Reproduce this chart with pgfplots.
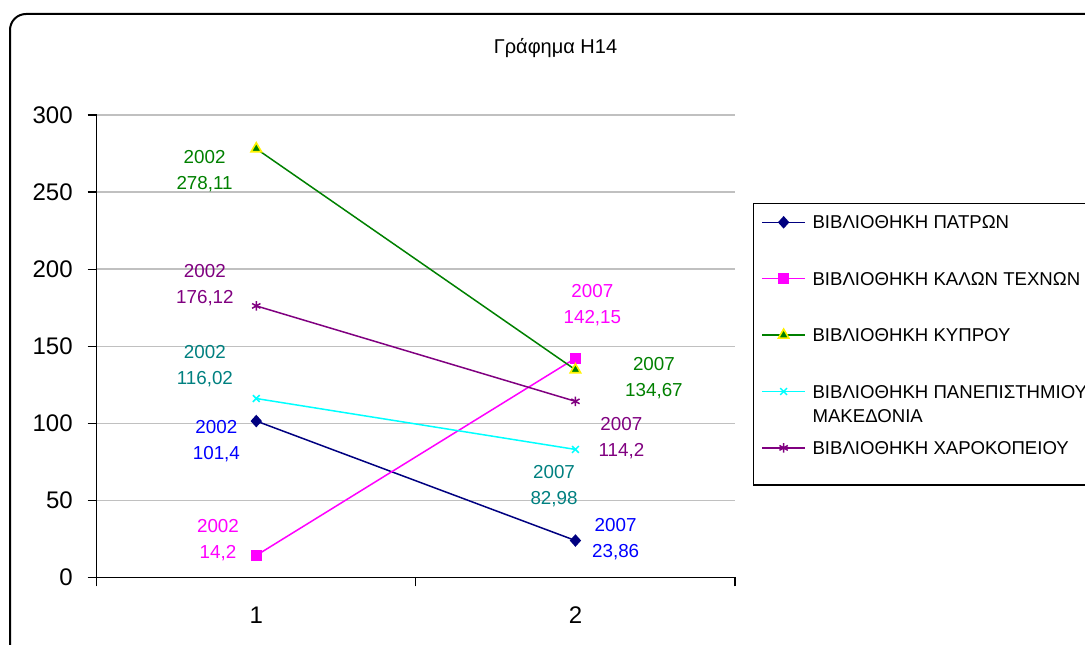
\documentclass[border=0pt]{standalone}
\usepackage{fontspec}
\setmainfont{Liberation Sans}
\usepackage{pgfplots}
\pgfplotsset{compat=1.18}
\definecolor{navyc}{RGB}{0,0,128}
\definecolor{bluec}{RGB}{0,0,255}
\definecolor{magc}{RGB}{255,0,255}
\definecolor{greenc}{RGB}{0,128,0}
\definecolor{cyanc}{RGB}{0,255,255}
\definecolor{tealc}{RGB}{0,128,128}
\definecolor{purpc}{RGB}{128,0,128}
\definecolor{gridc}{RGB}{192,192,192}
\begin{document}
\begin{tikzpicture}
\path[use as bounding box] (0,0) rectangle (542.5pt,322pt);
\clip (0,0) rectangle (542.5pt,322pt);
\draw[line width=1pt, rounded corners=8pt] (5pt,-30pt) rectangle (580pt,315pt);
\node[anchor=base, inner sep=0pt, font=\fontsize{10}{12}\selectfont] at (277.75pt,295.35pt) {Γράφημα Η14};
\draw[line width=0.6pt] (376.7pt,79.5pt) rectangle (600pt,220.35pt);
\begin{axis}[
  at={(48.35pt,33.35pt)}, anchor=south west,
  scale only axis, width=319.15pt, height=231.15pt,
  xmin=0.5, xmax=2.5, ymin=0, ymax=300,
  axis x line*=bottom, axis y line*=left,
  axis line style={line width=0.6pt, black},
  tick align=outside,
  xtick={1,2}, xticklabels={1,2},
  major x tick style={draw=none},
  minor xtick={0.5,1.5,2.5},
  minor tick length=4.5pt,
  minor x tick style={line width=0.6pt, black},
  ytick={0,50,...,300},
  major tick length=4.5pt,
  major y tick style={line width=0.6pt, black},
  ymajorgrids, grid style={gridc, line width=0.65pt},
  /pgf/number format/assume math mode=true,
  ticklabel style={font=\fontsize{12}{14}\selectfont},
  yticklabel style={anchor=east, inner sep=0pt, xshift=-7.3pt},
  xticklabel style={anchor=north, inner sep=0pt, yshift=-10.2pt},
  legend cell align=left,
  legend image code/.code={\draw[mark repeat=2,mark phase=2,#1] plot coordinates {(0pt,0pt) (10.6pt,0pt) (21.2pt,0pt)};},
  legend style={at={(1.0418,0.8289)}, anchor=north west, draw=none, fill=none,
    inner sep=0pt, outer sep=0pt, column sep=3.5pt, row sep=0pt,
    font=\fontsize{9.3}{12.15}\selectfont,
    nodes={inner sep=0pt, text height=17.43pt, text depth=10.77pt}},
  every axis plot/.append style={line width=0.75pt},
]
\addplot[navyc, mark=diamond*, mark size=2.6pt, mark options={xscale=1.2, solid}] coordinates {(1,101.4) (2,23.86)};
\addlegendentry{ΒΙΒΛΙΟΘΗΚΗ ΠΑΤΡΩΝ}
\addplot[magc, mark=square*, mark size=2.5pt] coordinates {(1,14.2) (2,142.15)};
\addlegendentry{ΒΙΒΛΙΟΘΗΚΗ ΚΑΛΩΝ ΤΕΧΝΩΝ}
\addplot[greenc, mark=triangle*, mark size=3pt, mark options={draw=yellow, fill=greenc, line width=0.8pt}] coordinates {(1,278.11) (2,134.67)};
\addlegendentry{ΒΙΒΛΙΟΘΗΚΗ ΚΥΠΡΟΥ}
\addplot[cyanc, mark=x, mark size=2.4pt] coordinates {(1,116.02) (2,82.98)};
\addlegendentry{\vtop{\hbox{ΒΙΒΛΙΟΘΗΚΗ ΠΑΝΕΠΙΣΤΗΜΙΟΥ}\hbox{ΜΑΚΕΔΟΝΙΑ}}}
\addplot[purpc, mark=asterisk, mark size=2.4pt] coordinates {(1,176.12) (2,114.2)};
\addlegendentry{ΒΙΒΛΙΟΘΗΚΗ ΧΑΡΟΚΟΠΕΙΟΥ}
\begin{scope}[every node/.style={align=center, inner sep=0pt, font=\fontsize{9.4}{13}\selectfont}]
\node[text=greenc] at (axis cs:0.838,263.5) {2002\\278,11};
\node[text=purpc] at (axis cs:0.839,189.7) {2002\\176,12};
\node[text=tealc] at (axis cs:0.839,137.1) {2002\\116,02};
\node[text=bluec] at (axis cs:0.875,88.6) {2002\\101,4};
\node[text=magc] at (axis cs:0.880,24.2) {2002\\14,2};
\node[text=magc] at (axis cs:2.053,176.4) {2007\\142,15};
\node[text=greenc] at (axis cs:2.246,129.5) {2007\\134,67};
\node[text=purpc] at (axis cs:2.144,90.4) {2007\\114,2};
\node[text=tealc] at (axis cs:1.933,59.1) {2007\\82,98};
\node[text=bluec] at (axis cs:2.126,25.0) {2007\\23,86};
\end{scope}
\end{axis}
\end{tikzpicture}
\end{document}
